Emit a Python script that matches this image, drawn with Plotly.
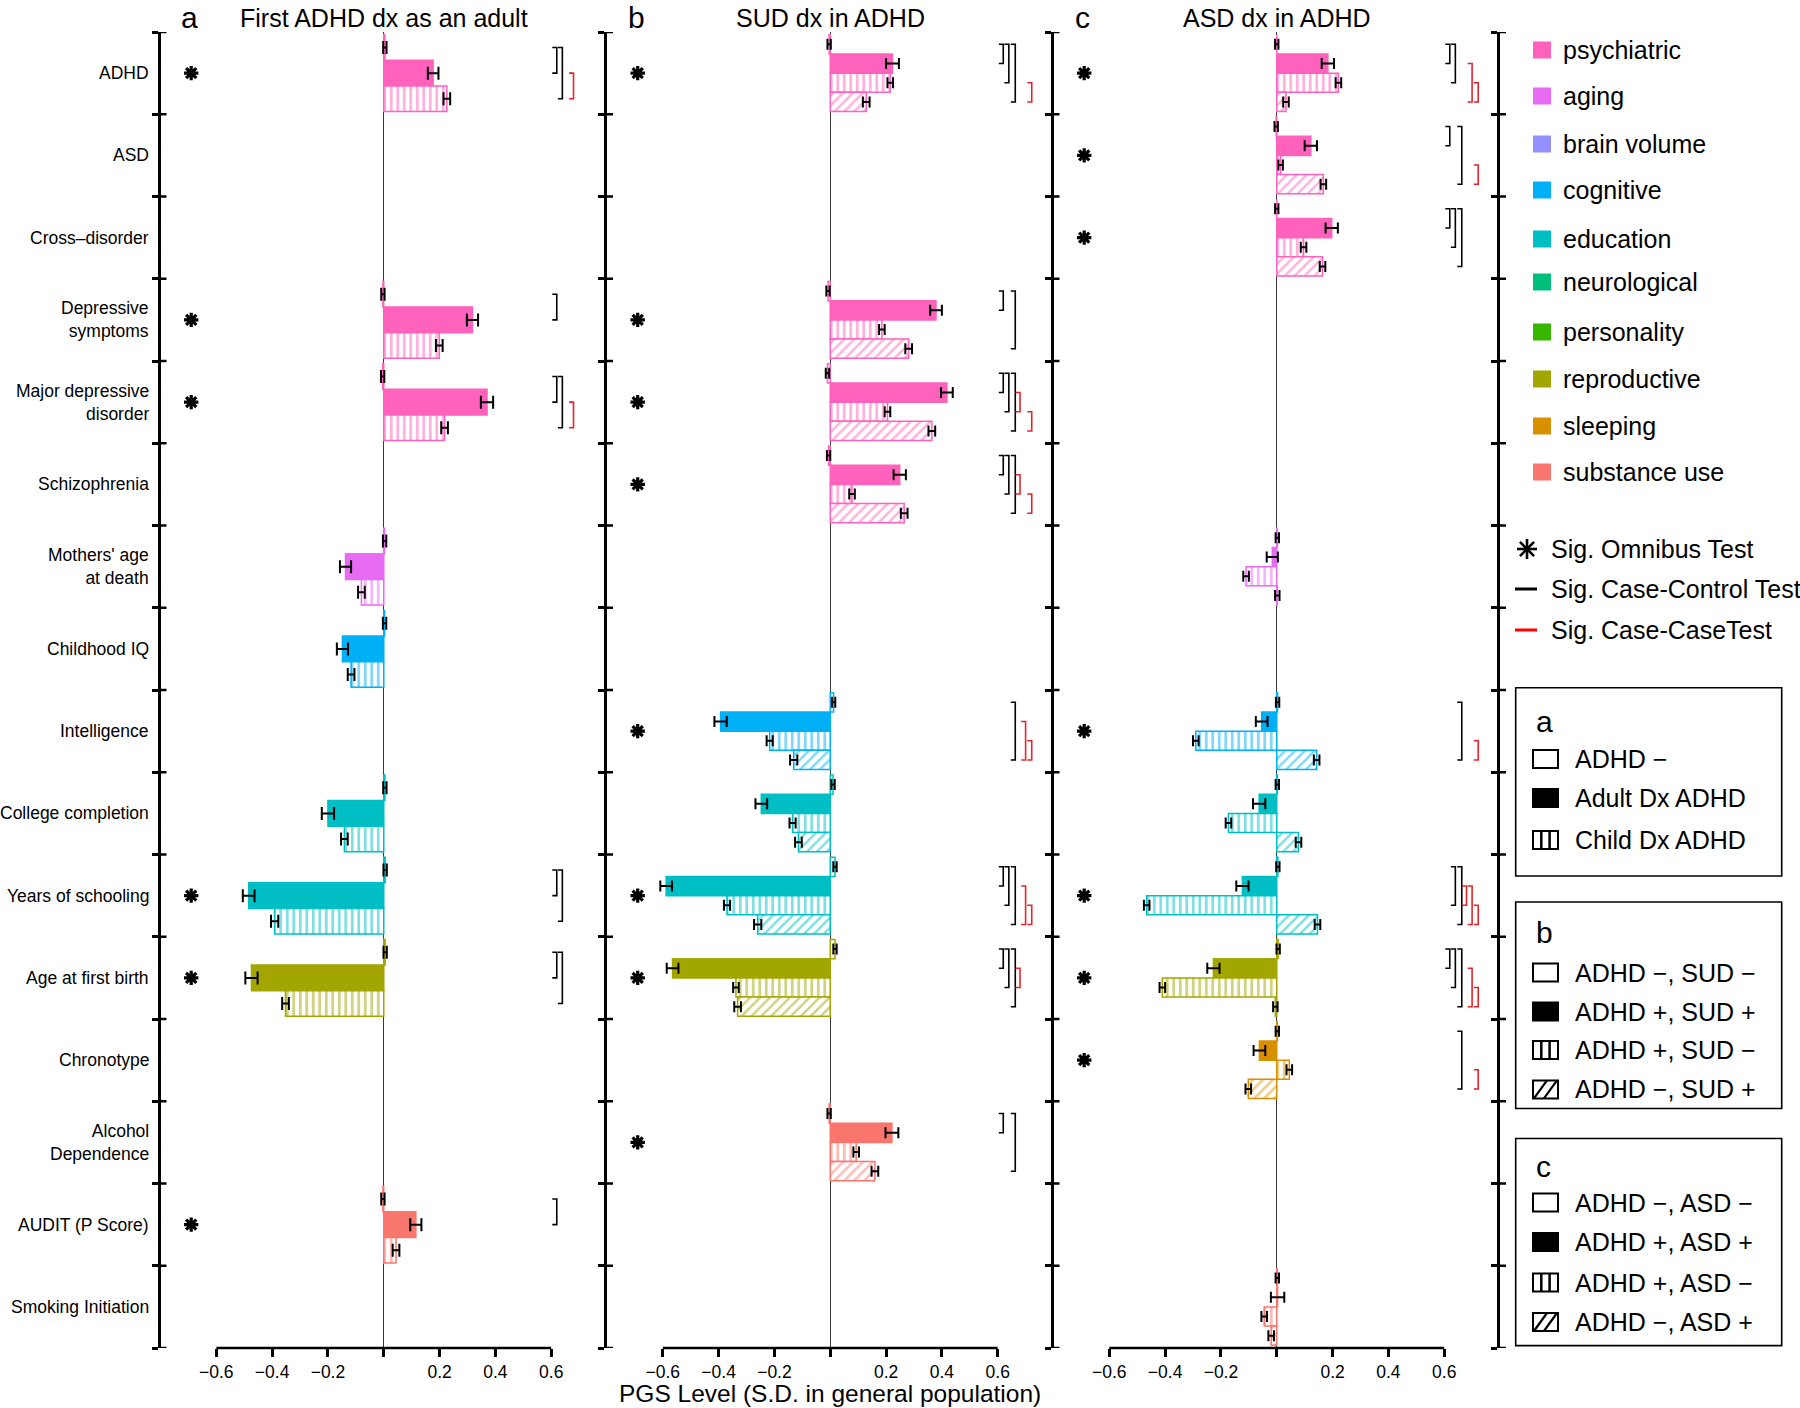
import plotly.graph_objects as go

# ---------------- data ----------------
traits = ["ADHD", "ASD", "Cross\u2013disorder", "Depressive<br>symptoms", "Major depressive<br>disorder",
          "Schizophrenia", "Mothers' age<br>at death", "Childhood IQ", "Intelligence", "College completion",
          "Years of schooling", "Age at first birth", "Chronotype", "Alcohol<br>Dependence",
          "AUDIT (P Score)", "Smoking Initiation"]
trait_class = ["psychiatric"] * 6 + ["aging", "cognitive", "cognitive", "education", "education",
                                     "reproductive", "sleeping", "substance use", "substance use", "substance use"]
class_names = ["psychiatric", "aging", "brain volume", "cognitive", "education", "neurological",
               "personality", "reproductive", "sleeping", "substance use"]
class_colors = ["#FF62BC", "#E76BF3", "#9590FF", "#00B0F6", "#00BFC4", "#00BF7D",
                "#39B600", "#A3A500", "#D89000", "#F8766D"]

N = None
# panel a: First ADHD dx as an adult
a_ctrl      = [0.004, N, N, -0.003, -0.004, N, 0.003, 0.003, N, 0.004, 0.005, 0.005, N, N, -0.003, N]
a_ctrl_err  = [0.006, N, N, 0.006, 0.006, N, 0.006, 0.006, N, 0.006, 0.006, 0.006, N, N, 0.006, N]
a_adult     = [0.177, N, N, 0.318, 0.370, N, -0.137, -0.148, N, -0.200, -0.484, -0.474, N, N, 0.115, N]
a_adult_err = [0.019, N, N, 0.020, 0.022, N, 0.020, 0.020, N, 0.022, 0.021, 0.022, N, N, 0.020, N]
a_child     = [0.226, N, N, 0.199, 0.218, N, -0.080, -0.117, N, -0.141, -0.391, -0.352, N, N, 0.044, N]
a_child_err = [0.012, N, N, 0.012, 0.012, N, 0.012, 0.012, N, 0.012, 0.013, 0.012, N, N, 0.012, N]
a_omnibus   = [1, 0, 0, 1, 1, 0, 0, 0, 0, 0, 1, 1, 0, 0, 1, 0]
a_tests     = {0: [(0, 1), (0, 2), (1, 2)], 3: [(0, 1)], 4: [(0, 1), (0, 2), (1, 2)],
               10: [(0, 1), (0, 2)], 11: [(0, 1), (0, 2)], 14: [(0, 1)]}

# panel b: SUD dx in ADHD
b_ctrl      = [-0.004, N, N, -0.008, -0.010, -0.006, N, N, 0.012, 0.010, 0.017, 0.017, N, -0.004, N, N]
b_ctrl_err  = [0.006, N, N, 0.006, 0.006, 0.006, N, N, 0.006, 0.006, 0.006, 0.006, N, 0.006, N, N]
b_both      = [0.223, N, N, 0.379, 0.418, 0.249, N, N, -0.393, -0.247, -0.588, -0.565, N, 0.221, N, N]
b_both_err  = [0.023, N, N, 0.021, 0.021, 0.022, N, N, 0.022, 0.021, 0.021, 0.021, N, 0.023, N, N]
b_adhd      = [0.215, N, N, 0.185, 0.205, 0.078, N, N, -0.217, -0.135, -0.370, -0.338, N, 0.093, N, N]
b_adhd_err  = [0.010, N, N, 0.010, 0.010, 0.010, N, N, 0.011, 0.011, 0.011, 0.010, N, 0.010, N, N]
b_sud       = [0.129, N, N, 0.281, 0.364, 0.265, N, N, -0.131, -0.114, -0.260, -0.332, N, 0.160, N, N]
b_sud_err   = [0.012, N, N, 0.012, 0.012, 0.012, N, N, 0.013, 0.012, 0.013, 0.012, N, 0.012, N, N]
b_omnibus   = [1, 0, 0, 1, 1, 1, 0, 0, 1, 0, 1, 1, 0, 1, 0, 0]
b_tests     = {0: [(0, 1), (0, 2), (0, 3), (2, 3)], 3: [(0, 1), (0, 3)],
               4: [(0, 1), (0, 2), (0, 3), (1, 2), (2, 3)], 5: [(0, 1), (0, 2), (0, 3), (1, 2), (2, 3)],
               8: [(0, 3), (1, 3), (2, 3)], 10: [(0, 1), (0, 2), (0, 3), (1, 3), (2, 3)],
               11: [(0, 1), (0, 2), (0, 3), (1, 2)], 13: [(0, 1), (0, 3)]}

# panel c: ASD dx in ADHD
c_ctrl      = [0.000, -0.002, 0.000, N, N, N, 0.002, N, 0.003, 0.002, 0.004, 0.005, 0.002, N, N, 0.002]
c_ctrl_err  = [0.006, 0.006, 0.006, N, N, N, 0.006, N, 0.006, 0.006, 0.006, 0.006, 0.006, N, N, 0.006]
c_both      = [0.183, 0.122, 0.197, N, N, N, -0.016, N, -0.054, -0.063, -0.123, -0.227, -0.062, N, N, 0.003]
c_both_err  = [0.022, 0.022, 0.022, N, N, N, 0.020, N, 0.021, 0.022, 0.022, 0.022, 0.021, N, N, 0.024]
c_adhd      = [0.221, 0.014, 0.096, N, N, N, -0.110, N, -0.290, -0.173, -0.466, -0.410, 0.045, N, N, -0.045]
c_adhd_err  = [0.010, 0.008, 0.010, N, N, N, 0.010, N, 0.010, 0.010, 0.010, 0.010, 0.010, N, N, 0.010]
c_asd       = [0.033, 0.167, 0.164, N, N, N, 0.002, N, 0.143, 0.078, 0.146, -0.005, -0.102, N, N, -0.020]
c_asd_err   = [0.010, 0.010, 0.010, N, N, N, 0.008, N, 0.010, 0.010, 0.010, 0.008, 0.010, N, N, 0.010]
c_omnibus   = [1, 1, 1, 0, 0, 0, 0, 0, 1, 0, 1, 1, 1, 0, 0, 0]
c_tests     = {0: [(0, 1), (0, 2), (1, 3), (2, 3)], 1: [(0, 1), (0, 3), (2, 3)],
               2: [(0, 1), (0, 2), (0, 3)], 8: [(0, 3), (2, 3)],
               10: [(0, 2), (0, 3), (1, 2), (1, 3), (2, 3)],
               11: [(0, 1), (0, 2), (0, 3), (1, 3), (2, 3)], 12: [(0, 3), (2, 3)]}

panel_titles = ["First ADHD dx as an adult", "SUD dx in ADHD", "ASD dx in ADHD"]
panel_letters = ["a", "b", "c"]
x_ticks = [-0.6, -0.4, -0.2, 0, 0.2, 0.4, 0.6]
x_ticktext = ["\u22120.6", "\u22120.4", "\u22120.2", "", "0.2", "0.4", "0.6"]

# ---------------- layout helpers ----------------
W, H = 1800, 1408
FONT = "Liberation Sans, Arial, Helvetica, sans-serif"
RED = "#E3262B"


def px(X):
    return X / W


def py(Y):
    return 1 - Y / H


AX = [160.5, 607.0, 1053.5, 1500.0]
TOP, BOT = 32.0, 1348.0
BARGAP = 0.065
rows = list(range(len(traits)))
colors = [class_colors[class_names.index(c)] for c in trait_class]
bx_pos = {(0, 1): 0.62, (0, 2): 0.64, (0, 3): 0.663, (1, 2): 0.68, (1, 3): 0.70, (2, 3): 0.722}

fig = go.Figure()
shapes, annos = [], []


def bar(vals, errs, kind, ax, capw):
    line = dict(color=colors, width=1.5)
    if kind == "ctrl":
        marker = dict(color="white", line=line)
    elif kind == "solid":
        marker = dict(color=colors, line=line)
    elif kind == "vert":
        marker = dict(color="white", line=line,
                      pattern=dict(shape="|", fgcolor=colors, bgcolor="white", size=6.5,
                                   solidity=0.42, fillmode="overlay"))
    else:
        marker = dict(color="white", line=line,
                      pattern=dict(shape="/", fgcolor=colors, bgcolor="white", size=7,
                                   solidity=0.35, fillmode="overlay"))
    return go.Bar(x=vals, y=rows, orientation="h", xaxis="x" + ax, yaxis="y" + ax,
                  marker=marker, showlegend=False,
                  error_x=dict(type="data", array=[e if e is not None else 0 for e in errs],
                               visible=True, color="black", thickness=2, width=capw))


panels = [
    ([(a_ctrl, a_ctrl_err, "ctrl"), (a_adult, a_adult_err, "solid"), (a_child, a_child_err, "vert")],
     a_omnibus, a_tests),
    ([(b_ctrl, b_ctrl_err, "ctrl"), (b_both, b_both_err, "solid"), (b_adhd, b_adhd_err, "vert"),
      (b_sud, b_sud_err, "diag")], b_omnibus, b_tests),
    ([(c_ctrl, c_ctrl_err, "ctrl"), (c_both, c_both_err, "solid"), (c_adhd, c_adhd_err, "vert"),
      (c_asd, c_asd_err, "diag")], c_omnibus, c_tests),
]

layout_axes = {}
for p, (series, omni, tests) in enumerate(panels):
    ax = "" if p == 0 else str(p + 1)
    for vals, errs, kind in series:
        fig.add_trace(bar(vals, errs, kind, ax, 6.5 if p == 0 else 5.5))
    # omnibus asterisks
    sig_rows = [r for r, f in zip(rows, omni) if f]
    fig.add_trace(go.Scatter(x=[-0.69] * len(sig_rows), y=sig_rows, mode="markers",
                             xaxis="x" + ax, yaxis="y" + ax, showlegend=False, cliponaxis=False,
                             marker=dict(symbol="asterisk-open", size=12, color="black",
                                         line=dict(width=3.2, color="black"))))
    # significance brackets
    n = len(series)
    gw = 1 - BARGAP
    for r, pairs in tests.items():
        for (i, j) in pairs:
            y1 = r - gw / 2 + (i + 0.5) * gw / n
            y2 = r - gw / 2 + (j + 0.5) * gw / n
            bx = bx_pos[(i, j)]
            col = "black" if i == 0 else RED
            shapes.append(dict(type="path", xref="x" + ax, yref="y" + ax,
                               path=f"M {bx - 0.016},{y1} L {bx},{y1} L {bx},{y2} L {bx - 0.016},{y2}",
                               line=dict(color=col, width=1.6)))
    # x axis line only between -0.6 and 0.6
    shapes.append(dict(type="line", xref="x" + ax, yref="y" + ax + " domain",
                       x0=x_ticks[0], x1=x_ticks[-1], y0=0, y1=0, line=dict(color="black", width=2.5)))
    layout_axes["xaxis" + ax] = dict(domain=[px(AX[p]), px(AX[p + 1])], range=[-0.8, 0.8],
                                     anchor="y" + ax, showline=False, showgrid=False, zeroline=True,
                                     zerolinecolor="#3a3a3a", zerolinewidth=1.2, tickmode="array",
                                     tickvals=x_ticks, ticktext=x_ticktext, ticks="outside", ticklen=8,
                                     tickwidth=2.5, tickcolor="black",
                                     tickfont=dict(size=17.5, color="black", family=FONT), automargin=False)
    # titles
    annos.append(dict(x=px(AX[p] + 29), y=1, xref="paper", yref="paper", text=panel_letters[p],
                      showarrow=False, xanchor="center", yanchor="top", borderpad=0,
                      font=dict(size=30, color="black", family=FONT)))
    annos.append(dict(x=px(AX[p] + 223.5), y=py(18), xref="paper", yref="paper", text=panel_titles[p],
                      showarrow=False, xanchor="center", yanchor="middle",
                      font=dict(size=25, color="black", family=FONT)))

# y axes (3 panels + legend column axis)
for p in range(4):
    ax = "" if p == 0 else str(p + 1)
    layout_axes["yaxis" + ax] = dict(domain=[py(BOT), py(TOP)], range=[15.5, -0.5], anchor="x" + ax,
                                     showline=True, linewidth=2.7, linecolor="black", showgrid=False,
                                     zeroline=False, tickmode="array",
                                     tickvals=[k - 0.5 for k in range(len(traits) + 1)],
                                     ticks="outside", ticklen=6, tickwidth=2.5, tickcolor="black",
                                     showticklabels=False, automargin=False)
    for k in range(len(traits) + 1):
        shapes.append(dict(type="line", xref="paper", yref="y", x0=px(AX[p]), x1=px(AX[p] + 6),
                           y0=k - 0.5, y1=k - 0.5, line=dict(color="black", width=2.5)))
layout_axes["xaxis4"] = dict(domain=[px(AX[3]), 1], range=[0, 1], anchor="y4", visible=False)
fig.add_trace(go.Scatter(x=[None], y=[None], xaxis="x4", yaxis="y4", showlegend=False))

# row labels
for r, t in enumerate(traits):
    annos.append(dict(x=px(151), xref="paper", y=r, yref="y", text=t, showarrow=False,
                      xanchor="right", yanchor="middle", align="right",
                      font=dict(size=17.5, color="black", family=FONT)))

annos.append(dict(x=px(830), y=0, xref="paper", yref="paper",
                  text="PGS Level (S.D. in general population)", showarrow=False, borderpad=0,
                  xanchor="center", yanchor="bottom", font=dict(size=24.5, color="black", family=FONT)))

# ---------------- legend ----------------
LEG = 25
cat_y = [50, 96, 144, 190, 239, 282, 332, 379, 426, 472]
for name, col, yy in zip(class_names, class_colors, cat_y):
    shapes.append(dict(type="rect", xref="paper", yref="paper", x0=px(1533), x1=px(1551),
                       y0=py(yy + 8.5), y1=py(yy - 8.5), fillcolor=col, line=dict(width=0)))
    annos.append(dict(x=px(1561), y=py(yy), xref="paper", yref="paper", text=name, showarrow=False,
                      xanchor="left", yanchor="middle", font=dict(size=LEG, color="black", family=FONT)))

# significance legend
cx, cy, rr = 1527, 549, 10
for dx, dy in [(1, 0), (0, 1), (0.707, 0.707), (0.707, -0.707)]:
    shapes.append(dict(type="line", xref="paper", yref="paper", x0=px(cx - rr * dx), x1=px(cx + rr * dx),
                       y0=py(cy - rr * dy), y1=py(cy + rr * dy), line=dict(color="black", width=2.6)))
shapes.append(dict(type="line", xref="paper", yref="paper", x0=px(1515), x1=px(1537), y0=py(589), y1=py(589),
                   line=dict(color="black", width=3)))
shapes.append(dict(type="line", xref="paper", yref="paper", x0=px(1515), x1=px(1537), y0=py(630), y1=py(630),
                   line=dict(color="red", width=3)))
for txt, yy in [("Sig. Omnibus Test", 549), ("Sig. Case-Control Test", 589), ("Sig. Case-CaseTest", 630)]:
    annos.append(dict(x=px(1549), y=py(yy), xref="paper", yref="paper", text=txt, showarrow=False,
                      xanchor="left", yanchor="middle", font=dict(size=LEG, color="black", family=FONT)))

# group legends
boxes = [
    ("a", 687.7, 876, 721, [("open", "ADHD \u2212", 759), ("solid", "Adult Dx ADHD", 798),
                            ("vert", "Child Dx ADHD", 840)]),
    ("b", 902, 1108.5, 932, [("open", "ADHD \u2212, SUD \u2212", 972.5), ("solid", "ADHD +, SUD +", 1011.6),
                             ("vert", "ADHD +, SUD \u2212", 1050), ("diag", "ADHD \u2212, SUD +", 1089.4)]),
    ("c", 1138.5, 1345.6, 1166, [("open", "ADHD \u2212, ASD \u2212", 1202.5), ("solid", "ADHD +, ASD +", 1242),
                                 ("vert", "ADHD +, ASD \u2212", 1282.6), ("diag", "ADHD \u2212, ASD +", 1322)]),
]
for letter, y0, y1, ly, items in boxes:
    shapes.append(dict(type="rect", xref="paper", yref="paper", x0=px(1515.7), x1=px(1781.7),
                       y0=py(y1), y1=py(y0), line=dict(color="black", width=1.6)))
    annos.append(dict(x=px(1534), y=py(ly), xref="paper", yref="paper", text=letter, showarrow=False,
                      xanchor="left", yanchor="middle", font=dict(size=30, color="black", family=FONT)))
    for kind, txt, yy in items:
        sx0, sx1, sy0, sy1 = 1533, 1558, yy - 9, yy + 9
        shapes.append(dict(type="rect", xref="paper", yref="paper", x0=px(sx0), x1=px(sx1),
                           y0=py(sy1), y1=py(sy0), fillcolor="black" if kind == "solid" else "white",
                           line=dict(color="black", width=2)))
        if kind == "vert":
            for xx in (sx0 + 8.3, sx0 + 16.6):
                shapes.append(dict(type="line", xref="paper", yref="paper", x0=px(xx), x1=px(xx),
                                   y0=py(sy0), y1=py(sy1), line=dict(color="black", width=2.5)))
        if kind == "diag":
            for xa in (sx0 + 1, sx0 + 11):
                shapes.append(dict(type="line", xref="paper", yref="paper", x0=px(xa), x1=px(xa + 13),
                                   y0=py(sy1), y1=py(sy0), line=dict(color="black", width=2.2)))
        annos.append(dict(x=px(1573), y=py(yy), xref="paper", yref="paper", text=txt, showarrow=False,
                          xanchor="left", yanchor="middle", font=dict(size=LEG, color="black", family=FONT)))

fig.update_layout(
    width=W, height=H, margin=dict(l=0, r=0, t=0, b=0),
    paper_bgcolor="white", plot_bgcolor="white",
    barmode="group", bargap=BARGAP, bargroupgap=0,
    font=dict(family=FONT, color="black"),
    showlegend=False, shapes=shapes, annotations=annos,
    **layout_axes,
)
fig.write_html("out.html", config={"displayModeBar": False},
               post_script="document.body.style.margin='0';document.body.style.overflow='hidden';")
